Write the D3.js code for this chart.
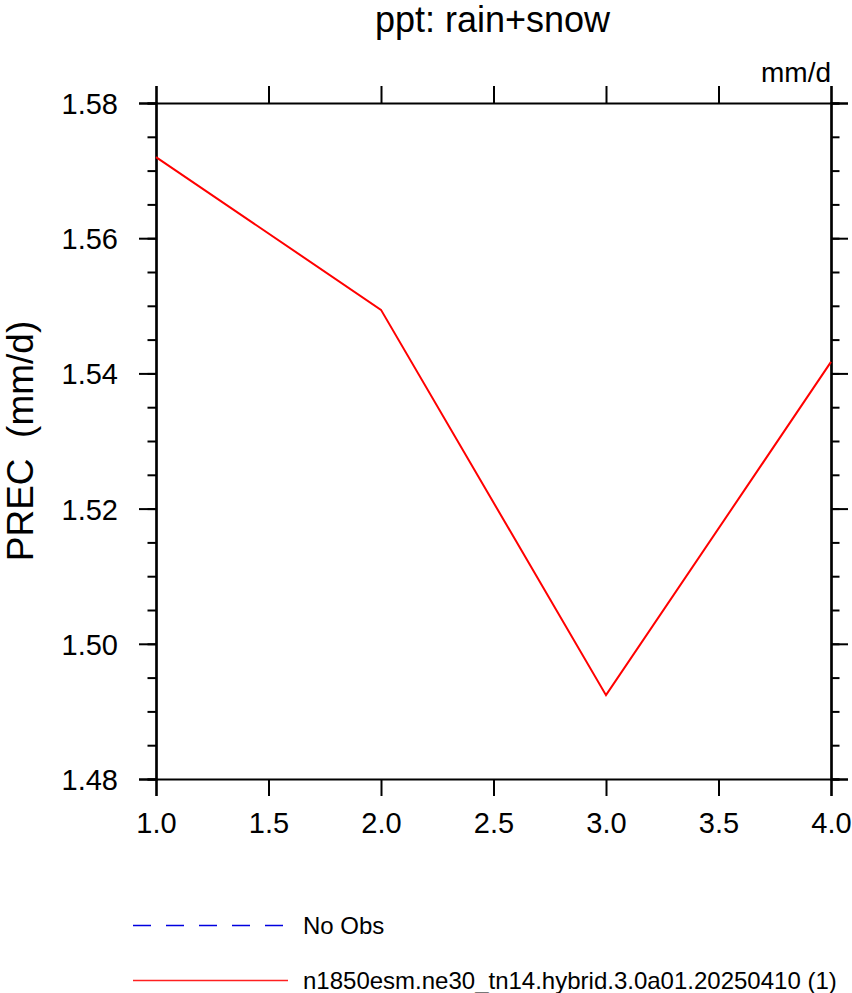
<!DOCTYPE html>
<html lang="en">

<head>
    <meta charset="UTF-8">
    <title>ppt: rain+snow</title>
    <script src="https://cdn.jsdelivr.net/npm/d3@7"></script>
    <style>
        body {
            margin: 0;
            background: #fff;
        }

        text {
            font-family: "Liberation Sans", Arial, Helvetica, sans-serif;
            fill: #000;
        }
    </style>
</head>

<body>
    <div id="chartArea"></div>
    <script>
        // values
        const years = [1, 2, 3, 4];
        const prec = [1.5720, 1.5494, 1.4924, 1.5417];
        const xTicks = [1.0, 1.5, 2.0, 2.5, 3.0, 3.5, 4.0];
        const yTicks = [1.48, 1.50, 1.52, 1.54, 1.56, 1.58];
        const legendNames = ['No Obs', 'n1850esm.ne30_tn14.hybrid.3.0a01.20250410 (1)'];

        const W = 852, H = 993;
        const margin = { top: 103, right: 21, bottom: 214, left: 156 };
        const w = W - margin.left - margin.right,
            h = H - margin.top - margin.bottom;

        const svg = d3.select('#chartArea').append('svg')
            .attr('width', W)
            .attr('height', H);

        const g = svg.append('g')
            .attr('transform', `translate(${margin.left},${margin.top})`);

        const xScale = d3.scaleLinear().domain([1, 4]).range([0, w]);
        const yScale = d3.scaleLinear().domain([1.48, 1.58]).range([h, 0]);

        const fmt = d3.format('.2f');
        const minor = d3.range(1.48, 1.5801, 0.005);

        // y axes: left with labels, right without
        const yLeft = g.append('g')
            .call(d3.axisLeft(yScale).tickValues(yTicks).tickFormat(fmt).tickSize(17).tickPadding(21));
        yLeft.append('g')
            .call(d3.axisLeft(yScale).tickValues(minor).tickFormat('').tickSize(8.5));
        const yRight = g.append('g')
            .attr('transform', `translate(${w},0)`)
            .call(d3.axisRight(yScale).tickValues(yTicks).tickFormat('').tickSize(17));
        yRight.append('g')
            .call(d3.axisRight(yScale).tickValues(minor).tickFormat('').tickSize(8.5));

        // x axes: bottom with labels, top without
        const xBottom = g.append('g')
            .attr('transform', `translate(0,${h})`)
            .call(d3.axisBottom(xScale).tickValues(xTicks).tickFormat(d3.format('.1f')).tickSize(17).tickPadding(16));
        const xTop = g.append('g')
            .call(d3.axisTop(xScale).tickValues(xTicks).tickFormat('').tickSize(17));

        g.selectAll('.domain').attr('stroke', '#000').attr('stroke-width', 2.2);
        g.selectAll('.tick line').attr('stroke', '#000').attr('stroke-width', 2);
        g.selectAll('.tick text')
            .style('font-size', '29px')
            .attr('fill', '#000');
        yLeft.selectAll('.tick text').attr('dy', '0.36em');
        xBottom.selectAll('.tick text').attr('dy', '0.72em');

        // data line
        const line = d3.line()
            .x((d, i) => xScale(years[i]))
            .y(d => yScale(d));

        g.append('path')
            .datum(prec)
            .attr('fill', 'none')
            .attr('stroke', '#ff0000')
            .attr('stroke-width', 2)
            .attr('d', line);

        // titles
        svg.append('text')
            .attr('x', margin.left + w / 2 - 1)
            .attr('y', 32)
            .attr('text-anchor', 'middle')
            .style('font-size', '36px')
            .text('ppt: rain+snow');

        svg.append('text')
            .attr('x', margin.left + w)
            .attr('y', 82)
            .attr('text-anchor', 'end')
            .style('font-size', '28px')
            .text('mm/d');

        svg.append('text')
            .attr('transform', `translate(33,${margin.top + h / 2}) rotate(-90)`)
            .attr('text-anchor', 'middle')
            .style('font-size', '37px')
            .style('white-space', 'pre')
            .attr('xml:space', 'preserve')
            .text('PREC  (mm/d)');

        // legend
        const legendY = [925.5, 980.5];
        const legendStyle = [
            { color: '#0000e0', dash: '18,15', width: 1.4 },
            { color: '#ff2020', dash: null, width: 1.6 }
        ];
        const leg = svg.append('g');
        legendNames.forEach((name, i) => {
            leg.append('line')
                .attr('x1', 133).attr('x2', 288)
                .attr('y1', legendY[i]).attr('y2', legendY[i])
                .attr('stroke', legendStyle[i].color)
                .attr('stroke-width', legendStyle[i].width)
                .attr('stroke-dasharray', legendStyle[i].dash);
            leg.append('text')
                .attr('x', 303)
                .attr('y', legendY[i] + 8.5)
                .style('font-size', '24px')
                .text(name);
        });
    </script>
</body>

</html>
